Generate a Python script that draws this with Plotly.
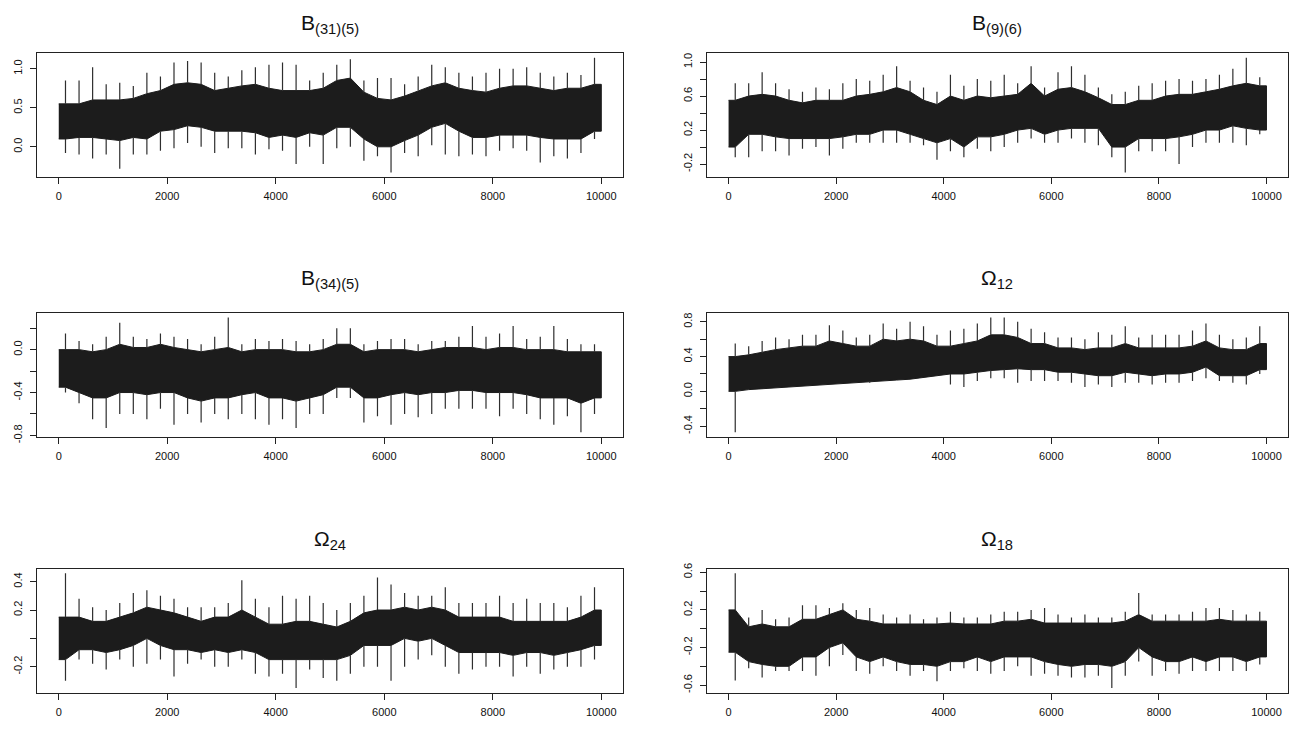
import plotly.graph_objects as go

# ---------------- data (one value per 250-iteration block) ----------------
block_mid = [125 + 250 * i for i in range(40)]

# B(31)(5)
b31_hi = [0.85, 0.85, 1.02, 0.80, 0.82, 0.78, 0.95, 0.90, 1.08, 1.10, 1.08, 0.95, 0.90, 0.98, 1.02, 1.05, 1.08, 1.05, 0.85, 0.95,
          1.05, 1.12, 0.85, 0.88, 0.88, 0.80, 0.90, 1.05, 1.02, 0.95, 0.90, 0.95, 1.00, 1.00, 1.02, 0.95, 0.90, 0.95, 0.92, 1.14]
b31_top = [0.55, 0.55, 0.60, 0.60, 0.60, 0.62, 0.68, 0.72, 0.80, 0.82, 0.80, 0.72, 0.75, 0.78, 0.80, 0.75, 0.72, 0.72, 0.72, 0.75,
           0.85, 0.88, 0.70, 0.62, 0.60, 0.65, 0.72, 0.78, 0.82, 0.75, 0.72, 0.70, 0.75, 0.78, 0.78, 0.75, 0.72, 0.75, 0.75, 0.80]
b31_bot = [0.10, 0.12, 0.12, 0.10, 0.08, 0.12, 0.10, 0.20, 0.22, 0.27, 0.25, 0.20, 0.20, 0.20, 0.18, 0.12, 0.15, 0.12, 0.18, 0.15,
           0.25, 0.25, 0.10, 0.00, 0.00, 0.08, 0.15, 0.25, 0.30, 0.20, 0.12, 0.12, 0.15, 0.15, 0.15, 0.12, 0.10, 0.10, 0.10, 0.20]
b31_lo = [-0.08, -0.10, -0.15, -0.10, -0.28, -0.10, -0.10, -0.05, -0.02, 0.05, 0.00, -0.08, -0.02, -0.02, -0.10, -0.03, -0.05, -0.22, 0.00, -0.22,
          -0.02, 0.00, -0.18, -0.12, -0.33, -0.08, -0.12, 0.02, -0.10, -0.12, -0.10, -0.12, -0.05, -0.02, -0.05, -0.20, -0.12, -0.15, -0.08, 0.10]

# B(9)(6)
b9_hi = [0.75, 0.75, 0.88, 0.75, 0.68, 0.65, 0.70, 0.68, 0.75, 0.80, 0.78, 0.85, 0.95, 0.78, 0.70, 0.65, 0.85, 0.72, 0.80, 0.78,
         0.85, 0.75, 0.95, 0.70, 0.88, 0.95, 0.85, 0.70, 0.62, 0.65, 0.72, 0.75, 0.78, 0.80, 0.78, 0.80, 0.85, 0.92, 1.05, 0.82]
b9_top = [0.55, 0.60, 0.62, 0.60, 0.55, 0.52, 0.55, 0.55, 0.55, 0.60, 0.62, 0.65, 0.70, 0.65, 0.55, 0.50, 0.60, 0.55, 0.60, 0.58,
          0.60, 0.62, 0.75, 0.60, 0.68, 0.70, 0.65, 0.58, 0.50, 0.50, 0.55, 0.55, 0.60, 0.62, 0.62, 0.65, 0.68, 0.72, 0.75, 0.72]
b9_bot = [0.00, 0.15, 0.15, 0.12, 0.10, 0.10, 0.10, 0.10, 0.12, 0.15, 0.15, 0.20, 0.20, 0.15, 0.10, 0.05, 0.10, 0.00, 0.12, 0.12,
          0.15, 0.20, 0.22, 0.15, 0.20, 0.22, 0.22, 0.22, 0.00, 0.00, 0.10, 0.10, 0.10, 0.12, 0.15, 0.20, 0.20, 0.25, 0.22, 0.20]
b9_lo = [-0.12, -0.12, -0.05, -0.05, -0.10, -0.02, 0.00, -0.10, -0.02, 0.05, 0.05, 0.05, 0.05, 0.05, 0.02, -0.15, -0.05, -0.12, -0.02, -0.05,
         0.00, 0.05, 0.10, 0.05, 0.05, 0.10, 0.05, 0.02, -0.12, -0.30, -0.05, -0.05, -0.05, -0.20, 0.00, 0.05, 0.05, 0.05, 0.02, 0.15]

# B(34)(5)
b34_hi = [0.15, 0.08, 0.05, 0.12, 0.25, 0.12, 0.10, 0.15, 0.12, 0.10, 0.05, 0.12, 0.30, 0.05, 0.10, 0.08, 0.10, 0.08, 0.05, 0.10,
          0.20, 0.20, 0.05, 0.08, 0.10, 0.10, 0.05, 0.08, 0.08, 0.12, 0.22, 0.12, 0.15, 0.22, 0.10, 0.12, 0.22, 0.10, 0.05, 0.05]
b34_top = [0.00, 0.00, -0.02, 0.00, 0.05, 0.02, 0.02, 0.05, 0.02, 0.00, -0.02, 0.00, 0.02, -0.02, 0.00, 0.00, 0.00, -0.02, -0.02, 0.00,
           0.05, 0.05, -0.02, 0.00, 0.00, 0.00, -0.02, 0.00, 0.02, 0.02, 0.02, 0.00, 0.02, 0.02, 0.00, 0.00, 0.00, -0.02, -0.02, -0.02]
b34_bot = [-0.35, -0.40, -0.45, -0.45, -0.40, -0.40, -0.42, -0.40, -0.40, -0.45, -0.48, -0.45, -0.45, -0.42, -0.40, -0.45, -0.45, -0.48, -0.45, -0.42,
           -0.35, -0.35, -0.45, -0.45, -0.42, -0.40, -0.42, -0.40, -0.40, -0.38, -0.38, -0.40, -0.40, -0.40, -0.42, -0.45, -0.45, -0.45, -0.50, -0.45]
b34_lo = [-0.40, -0.50, -0.65, -0.73, -0.60, -0.60, -0.65, -0.55, -0.70, -0.60, -0.68, -0.60, -0.65, -0.60, -0.65, -0.70, -0.65, -0.73, -0.60, -0.60,
          -0.45, -0.45, -0.68, -0.62, -0.70, -0.60, -0.63, -0.60, -0.55, -0.55, -0.55, -0.55, -0.62, -0.55, -0.60, -0.65, -0.70, -0.62, -0.77, -0.60]

# Omega 12
om12_hi = [0.55, 0.52, 0.58, 0.62, 0.60, 0.65, 0.65, 0.76, 0.70, 0.62, 0.65, 0.78, 0.72, 0.80, 0.75, 0.65, 0.70, 0.72, 0.78, 0.85,
           0.85, 0.80, 0.72, 0.68, 0.62, 0.62, 0.60, 0.68, 0.65, 0.75, 0.62, 0.65, 0.65, 0.65, 0.70, 0.78, 0.65, 0.60, 0.62, 0.75]
om12_top = [0.40, 0.42, 0.45, 0.48, 0.50, 0.52, 0.52, 0.58, 0.55, 0.52, 0.52, 0.60, 0.58, 0.60, 0.58, 0.52, 0.52, 0.55, 0.58, 0.65,
            0.65, 0.62, 0.55, 0.55, 0.50, 0.50, 0.48, 0.50, 0.50, 0.55, 0.50, 0.50, 0.50, 0.50, 0.52, 0.58, 0.50, 0.48, 0.48, 0.55]
om12_bot = [0.00, 0.02, 0.03, 0.04, 0.05, 0.06, 0.07, 0.08, 0.09, 0.10, 0.11, 0.12, 0.13, 0.14, 0.16, 0.18, 0.20, 0.20, 0.22, 0.24,
            0.25, 0.26, 0.25, 0.25, 0.22, 0.22, 0.20, 0.18, 0.18, 0.22, 0.20, 0.18, 0.20, 0.20, 0.22, 0.28, 0.18, 0.18, 0.18, 0.25]
om12_lo = [-0.47, 0.02, 0.03, 0.04, 0.05, 0.06, 0.07, 0.08, 0.09, 0.10, 0.10, 0.12, 0.13, 0.14, 0.16, 0.18, 0.08, 0.05, 0.12, 0.15,
           0.15, 0.10, 0.12, 0.12, 0.12, 0.10, 0.05, 0.08, 0.05, 0.10, 0.10, 0.08, 0.10, 0.10, 0.12, 0.15, 0.12, 0.10, 0.08, 0.20]

# Omega 24
om24_hi = [0.46, 0.28, 0.22, 0.20, 0.25, 0.32, 0.34, 0.30, 0.28, 0.22, 0.22, 0.22, 0.25, 0.41, 0.28, 0.22, 0.30, 0.28, 0.30, 0.25,
           0.20, 0.25, 0.30, 0.43, 0.38, 0.32, 0.30, 0.30, 0.36, 0.25, 0.25, 0.25, 0.30, 0.25, 0.28, 0.25, 0.25, 0.22, 0.30, 0.36]
om24_top = [0.15, 0.15, 0.12, 0.12, 0.15, 0.18, 0.22, 0.20, 0.18, 0.15, 0.12, 0.15, 0.15, 0.20, 0.15, 0.10, 0.10, 0.12, 0.12, 0.10,
            0.08, 0.12, 0.18, 0.20, 0.20, 0.22, 0.20, 0.22, 0.20, 0.15, 0.15, 0.15, 0.15, 0.12, 0.12, 0.12, 0.12, 0.12, 0.15, 0.20]
om24_bot = [-0.15, -0.08, -0.08, -0.10, -0.08, -0.05, 0.00, -0.05, -0.08, -0.08, -0.10, -0.08, -0.10, -0.08, -0.10, -0.15, -0.15, -0.15, -0.15, -0.15,
            -0.15, -0.12, -0.05, -0.05, -0.05, 0.00, -0.02, 0.00, -0.05, -0.10, -0.10, -0.10, -0.10, -0.12, -0.10, -0.10, -0.12, -0.10, -0.08, -0.05]
om24_lo = [-0.30, -0.15, -0.18, -0.22, -0.15, -0.20, -0.18, -0.15, -0.27, -0.18, -0.15, -0.20, -0.20, -0.15, -0.25, -0.27, -0.25, -0.35, -0.22, -0.28,
           -0.30, -0.25, -0.20, -0.20, -0.30, -0.20, -0.15, -0.12, -0.20, -0.25, -0.22, -0.20, -0.20, -0.27, -0.20, -0.25, -0.22, -0.20, -0.20, -0.15]

# Omega 18
om18_hi = [0.59, 0.12, 0.20, 0.10, 0.12, 0.25, 0.25, 0.22, 0.27, 0.20, 0.22, 0.15, 0.12, 0.15, 0.10, 0.12, 0.18, 0.12, 0.12, 0.15,
           0.18, 0.18, 0.20, 0.22, 0.15, 0.12, 0.15, 0.12, 0.12, 0.18, 0.38, 0.15, 0.15, 0.15, 0.18, 0.22, 0.22, 0.20, 0.15, 0.18]
om18_top = [0.20, 0.02, 0.05, 0.02, 0.02, 0.10, 0.10, 0.15, 0.20, 0.10, 0.08, 0.05, 0.05, 0.05, 0.05, 0.05, 0.06, 0.05, 0.05, 0.05,
            0.08, 0.08, 0.10, 0.06, 0.06, 0.06, 0.06, 0.06, 0.06, 0.08, 0.15, 0.08, 0.08, 0.08, 0.08, 0.08, 0.10, 0.08, 0.08, 0.08]
om18_bot = [-0.25, -0.35, -0.38, -0.40, -0.40, -0.30, -0.30, -0.20, -0.15, -0.30, -0.35, -0.30, -0.35, -0.38, -0.38, -0.40, -0.35, -0.35, -0.30, -0.35,
            -0.30, -0.30, -0.30, -0.35, -0.38, -0.40, -0.38, -0.38, -0.40, -0.35, -0.20, -0.30, -0.35, -0.35, -0.30, -0.35, -0.30, -0.30, -0.35, -0.30]
om18_lo = [-0.55, -0.42, -0.52, -0.45, -0.45, -0.45, -0.50, -0.40, -0.28, -0.45, -0.48, -0.40, -0.45, -0.50, -0.45, -0.56, -0.45, -0.42, -0.45, -0.48,
           -0.45, -0.40, -0.50, -0.48, -0.50, -0.52, -0.52, -0.50, -0.63, -0.50, -0.35, -0.50, -0.45, -0.48, -0.45, -0.45, -0.45, -0.45, -0.45, -0.38]

x_ticks = [0, 2000, 4000, 6000, 8000, 10000]
x_ticktext = ["0", "2000", "4000", "6000", "8000", "10000"]

titles = ["B<sub>(31)(5)</sub>", "B<sub>(9)(6)</sub>", "B<sub>(34)(5)</sub>",
          "Ω<sub>12</sub>", "Ω<sub>24</sub>", "Ω<sub>18</sub>"]

# labelled y ticks (R drops labels that would overlap; unlabelled ticks come from minor ticks)
y_labelled = [
    [0.0, 0.5, 1.0],
    [-0.2, 0.2, 0.6, 1.0],
    [-0.8, -0.4, 0.0],
    [-0.4, 0.0, 0.4, 0.8],
    [-0.2, 0.2, 0.4],
    [-0.6, -0.2, 0.2, 0.6],
]
y_minor_step = [None, 0.2, 0.2, 0.2, 0.2, 0.2]

series = [
    (b31_hi, b31_top, b31_bot, b31_lo),
    (b9_hi, b9_top, b9_bot, b9_lo),
    (b34_hi, b34_top, b34_bot, b34_lo),
    (om12_hi, om12_top, om12_bot, om12_lo),
    (om24_hi, om24_top, om24_bot, om24_lo),
    (om18_hi, om18_top, om18_bot, om18_lo),
]

# ---------------- layout geometry ----------------
W, H = 1294, 731
col_px = [(37, 623), (707, 1288)]
row_px = [(48, 174), (312, 438), (572, 698)]
title_px = [18, 278, 543]

INK = "#1c1c1c"
fig = go.Figure()
layout = dict(
    width=W, height=H, margin=dict(l=0, r=0, t=0, b=0),
    paper_bgcolor="white", plot_bgcolor="white", showlegend=False,
    font=dict(family="Liberation Sans, Arial, sans-serif", color="#000"),
)
annotations = []

for k in range(6):
    r, c = divmod(k, 2)
    idx = k + 1
    xa = "x" if idx == 1 else f"x{idx}"
    ya = "y" if idx == 1 else f"y{idx}"
    hi, top, bot, lo = series[k]

    dmin, dmax = min(lo), max(hi)
    pad = 0.04 * (dmax - dmin)

    # dense core band of the trace (iterations 1..10000)
    bx = [1] + block_mid + [10000]
    btop = [top[0]] + top + [top[-1]]
    bbot = [bot[0]] + bot + [bot[-1]]
    fig.add_trace(go.Scatter(
        x=bx + bx[::-1], y=btop + bbot[::-1],
        fill="toself", fillcolor=INK, mode="lines",
        line=dict(color=INK, width=1), xaxis=xa, yaxis=ya, hoverinfo="skip"))

    # extreme excursions in each block
    sx, sy = [], []
    for xm, h_, t_, b_, l_ in zip(block_mid, hi, top, bot, lo):
        sx += [xm, xm, None, xm, xm, None]
        sy += [t_, h_, None, b_, l_, None]
    fig.add_trace(go.Scatter(
        x=sx, y=sy, mode="lines", line=dict(color="#2e2e2e", width=1.2),
        xaxis=xa, yaxis=ya, hoverinfo="skip"))

    x0, x1 = col_px[c]
    y0, y1 = row_px[r]
    axis_common = dict(showgrid=False, zeroline=False, showline=True, mirror=True,
                       linecolor="#222", linewidth=1, ticks="outside", ticklen=6,
                       tickcolor="#222", tickfont=dict(size=11, color="#111"))
    layout["xaxis" if idx == 1 else f"xaxis{idx}"] = dict(
        domain=[x0 / W, x1 / W], range=[-400, 10400], anchor=ya,
        tickvals=x_ticks, ticktext=x_ticktext, ticklabelstandoff=3, **axis_common)
    yax = dict(
        domain=[1 - y1 / H, 1 - y0 / H], range=[dmin - pad, dmax + pad], anchor=xa,
        tickvals=y_labelled[k], ticktext=[f"{v:.1f}" for v in y_labelled[k]],
        tickangle=-90, ticklabelstandoff=4, **axis_common)
    if y_minor_step[k]:
        yax["minor"] = dict(dtick=y_minor_step[k], tick0=0, ticks="outside", ticklen=6,
                            tickcolor="#222", showgrid=False)
    layout["yaxis" if idx == 1 else f"yaxis{idx}"] = yax

    annotations.append(dict(
        text=titles[k], x=(x0 + x1) / 2 / W, y=1 - title_px[r] / H,
        xref="paper", yref="paper", xanchor="center", yanchor="middle",
        showarrow=False, font=dict(size=21, color="#111")))

layout["annotations"] = annotations
fig.update_layout(**layout)
fig.write_html("out.html")
